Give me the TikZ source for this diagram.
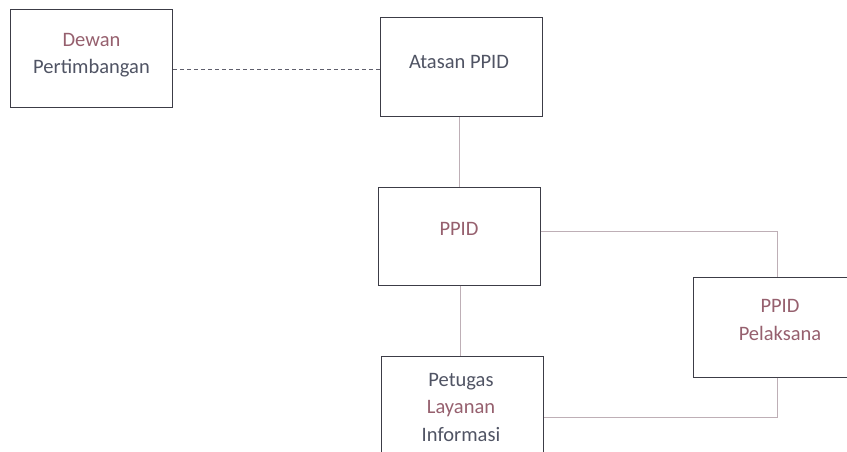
\documentclass[tikz,border=0pt]{standalone}
\usepackage{fontspec}
\setmainfont{Carlito}
\definecolor{txt}{RGB}{80,84,100}
\definecolor{txtr}{RGB}{150,96,110}
\definecolor{boxline}{RGB}{60,60,70}
\definecolor{conn}{RGB}{190,175,182}
\definecolor{dash}{RGB}{95,95,108}
\tikzset{
  orgbox/.style={draw=boxline, line width=1pt, rectangle, inner sep=0pt},
  lbl/.style={font=\fontsize{20.5}{27.5}\selectfont, text=txt, align=center, inner sep=0pt},
  conline/.style={draw=conn, line width=0.8pt},
  dashline/.style={draw=dash, line width=0.8pt, dash pattern=on 4pt off 3pt}
}
\begin{document}
\begin{tikzpicture}[x=1pt,y=-1pt]
\useasboundingbox (0,0) rectangle (847,452);
\clip (0,0) rectangle (847,452);
\fill[white] (0,0) rectangle (847,452);
% boxes
\node[orgbox, minimum width=162pt, minimum height=98pt] (dewan) at (91.5,59) {};
\node[orgbox, minimum width=162pt, minimum height=99pt] (atasan) at (461,67.5) {};
\node[orgbox, minimum width=162pt, minimum height=98pt] (ppid) at (459,236) {};
\node[orgbox, minimum width=174pt, minimum height=100pt] (pel) at (780,327) {};
\node[orgbox, minimum width=162pt, minimum height=100pt] (pet) at (462,406) {};
% labels (base anchor = baseline of last line)
\node[lbl, anchor=base] (tdewan) at (91.5,74) {\textcolor{txtr}{Dewan}\\Pertimbangan};
\node[lbl, anchor=base] (tatasan) at (459,69) {Atasan PPID};
\node[lbl, anchor=base, text=txtr] (tppid) at (459,235) {PPID};
\node[lbl, anchor=base, text=txtr] (tpel) at (780,340) {PPID\\Pelaksana};
\node[lbl, anchor=base] (tpet) at (461,441) {Petugas\\\textcolor{txtr}{Layanan}\\Informasi};
% connectors
\draw[dashline] (dewan.east |- 0,69) -- (atasan.west |- 0,69);
\draw[conline] (atasan.south -| 459,0) -- (ppid.north -| 459,0);
\draw[conline] (ppid.south -| 460,0) -- (pet.north -| 460,0);
\coordinate (c1) at (777,231);
\coordinate (c2) at (777,417);
\draw[conline] (ppid.east |- c1) -- (c1) -- (pel.north -| c1);
\draw[conline] (pel.south -| c2) -- (c2) -- (pet.east |- c2);
\end{tikzpicture}
\end{document}
